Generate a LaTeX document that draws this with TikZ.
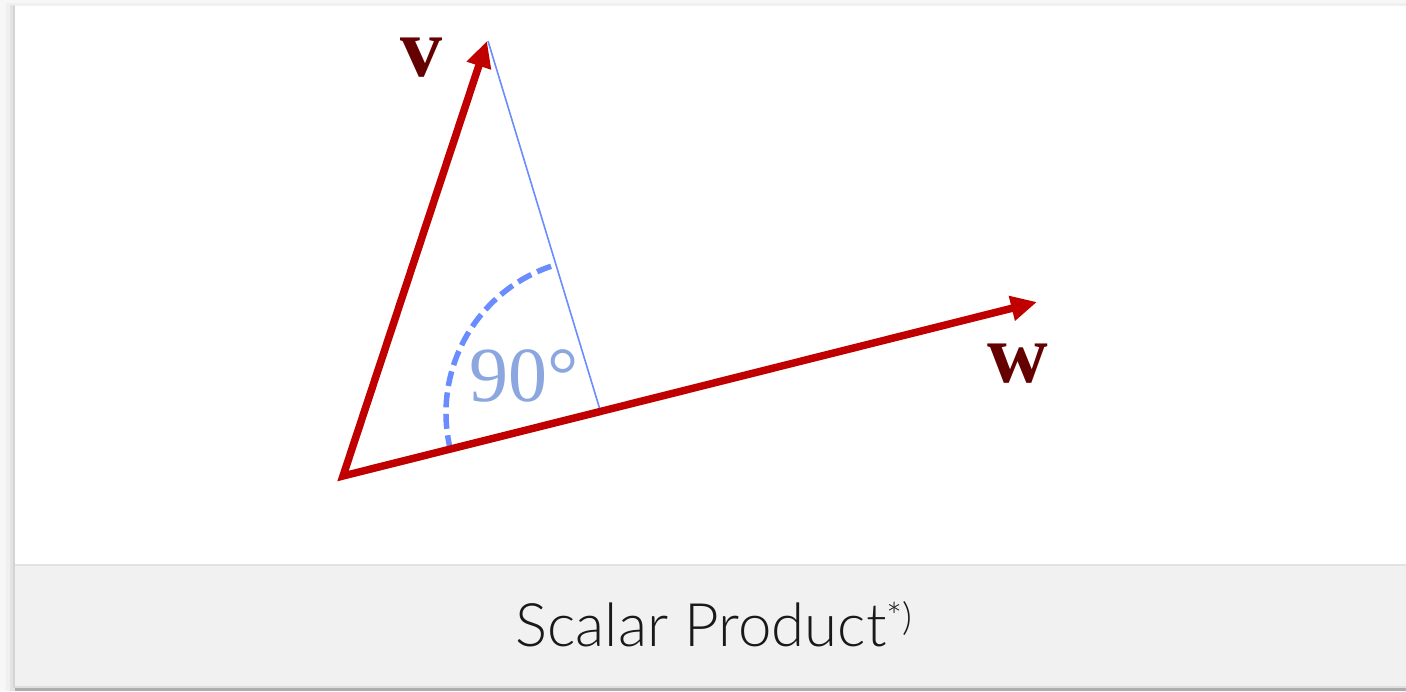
\documentclass[tikz,border=0pt]{standalone}
\usepackage{fontspec}
\usetikzlibrary{arrows.meta}
\newfontfamily\lblfont{Liberation Serif}
\newfontfamily\capfont{Lato Light}
\definecolor{vecred}{HTML}{C00000}
\definecolor{lblred}{HTML}{640000}
\definecolor{arcblue}{HTML}{6A8CFF}
\definecolor{degblue}{HTML}{8CA6E0}
\definecolor{capgray}{HTML}{F1F1F1}
\tikzset{
  vec/.style={draw=vecred, line width=7.5pt, line join=miter},
  proj/.style={draw=arcblue, line width=1.6pt},
  anglearc/.style={draw=arcblue, line width=5.5pt, dash pattern=on 15pt off 6.5pt},
  veclabel/.style={text=lblred, font=\fontsize{84}{84}\selectfont\lblfont\bfseries, inner sep=0pt},
  deglabel/.style={text=degblue, font=\fontsize{78}{78}\selectfont\lblfont, inner sep=0pt},
  caption/.style={text=black!90, font=\fontsize{60}{60}\selectfont\capfont, inner sep=0pt}
}
\begin{document}
\begin{tikzpicture}[x=1pt,y=-1pt]
\useasboundingbox (0,0) rectangle (1406,691);
% card and shadow
\fill[white] (0,0) rectangle (1406,691);
\fill[black!3] (0,0) rectangle (15,691);
\fill[black!3] (0,0) rectangle (1406,6);
\fill[black!6] (6,3) rectangle (15,691);
\fill[black!6] (6,3) rectangle (1406,6);
\fill[black!11] (10,5) rectangle (15,691);
\fill[black!17] (13,6) rectangle (15,688);
\fill[white] (15,6) rectangle (1406,686);
% caption band
\fill[capgray] (15,565) rectangle (1406,686);
\fill[black!11] (15,564) rectangle (1406,566);
\fill[black!13] (15,686) rectangle (1406,688);
\fill[black!32] (15,688) rectangle (1406,691);
% geometry
\coordinate (O) at (343,476);
\coordinate (V) at (487,41);
\coordinate (W) at (1037,302);
\coordinate (T) at (488,41);
\coordinate (P) at (601,413);
\draw[proj] (T) -- (P);
\draw[anglearc] (P) ++(166.2:155) arc[start angle=166.2, end angle=251.2, radius=155];
\draw[vec, {Triangle[length=26pt,width=24pt]}-{Triangle[length=26pt,width=24pt]}] (V) -- (O) -- (W);
\node[veclabel] (vl) at (421,58) {v};
\node[veclabel] (wl) at (1018,364) {w};
\node[deglabel] (deg) at (524,376) {90°};
\node[caption, anchor=base] (cap) at (714,646) {Scalar Product\raisebox{16pt}{\fontsize{38}{38}\selectfont *)}};
\end{tikzpicture}
\end{document}
